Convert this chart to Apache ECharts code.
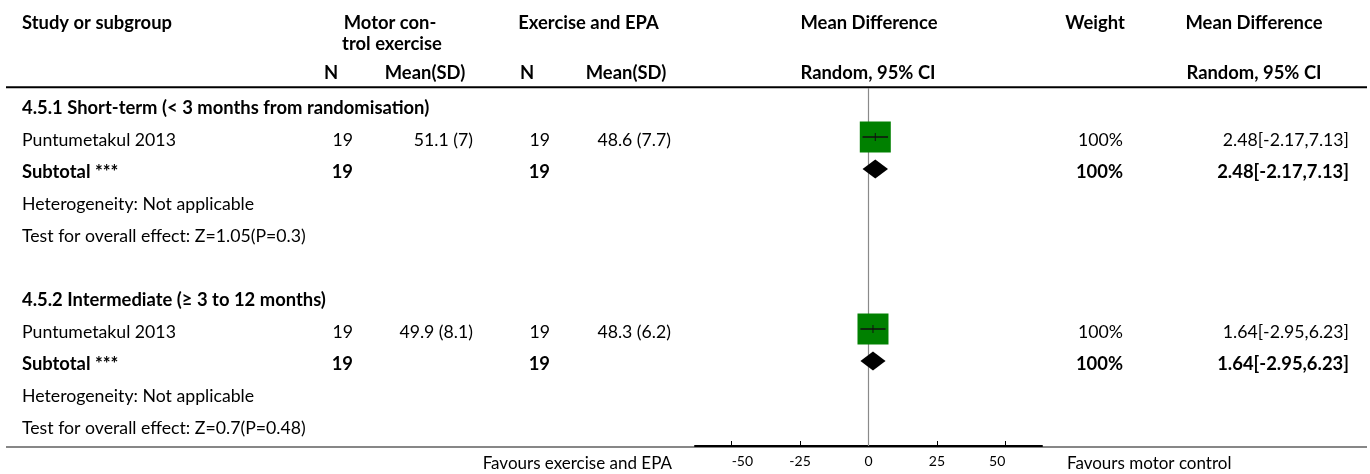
<!DOCTYPE html>
<html><head><meta charset="utf-8">
<script src="https://cdn.jsdelivr.net/npm/echarts@6/dist/echarts.min.js"></script>
<style>html,body{margin:0;padding:0;background:#fff}#c{width:1370px;height:474px}</style>
</head><body><div id="c"></div>
<script>
// ---------- data ----------
const subgroupTitles = ['4.5.1 Short-term (< 3 months from randomisation)', '4.5.2 Intermediate (\u2265 3 to 12 months)'];
const studyNames = ['Puntumetakul 2013', 'Puntumetakul 2013'];
const motorN = [19, 19];
const motorMean = [51.1, 49.9];
const motorSD = [7, 8.1];
const epaN = [19, 19];
const epaMean = [48.6, 48.3];
const epaSD = [7.7, 6.2];
const meanDiff = [2.48, 1.64];
const ciLower = [-2.17, -2.95];
const ciUpper = [7.13, 6.23];
const weights = [100, 100];
const heterogeneityText = ['Heterogeneity: Not applicable', 'Heterogeneity: Not applicable'];
const overallEffectText = ['Test for overall effect: Z=1.05(P=0.3)', 'Test for overall effect: Z=0.7(P=0.48)'];
const tickValues = [-50, -25, 0, 25, 50];
const headerTop = ['Study or subgroup', 'Motor con-', 'Exercise and EPA', 'Mean Difference', 'Weight', 'Mean Difference'];
const headerTop2 = ['trol exercise'];
const headerSub = ['N', 'Mean(SD)', 'N', 'Mean(SD)', 'Random, 95% CI', 'Random, 95% CI'];
const favoursLeft = 'Favours exercise and EPA';
const favoursRight = 'Favours motor control';

// ---------- layout / style ----------
const FONT = 'Lato';
const fontR = '17.7px ' + FONT;
const fontB = 'bold 18.4px ' + FONT;
const fontF = '17px ' + FONT;
const COL = { label: 22, n1: 353, m1: 473, n2: 550, m2: 671, w: 1123, md: 1349 };
const HEADX = { top: [22, 390, 588.5, 869, 1095, 1254], top2: [392], sub: [331, 425, 527, 626, 868, 1254] };

// build table rows
const rows = [];
subgroupTitles.forEach((t, g) => {
  if (g > 0) rows.push({ kind: 'blank' });
  rows.push({ kind: 'group', g });
  rows.push({ kind: 'study', g });
  rows.push({ kind: 'subtotal', g });
  rows.push({ kind: 'het', g });
  rows.push({ kind: 'test', g });
});
const rowCats = rows.map((r, i) => String(i));
const ciText = g => meanDiff[g].toFixed(2) + '[' + ciLower[g].toFixed(2) + ',' + ciUpper[g].toFixed(2) + ']';

function txt(text, x, y, align, bold, font) {
  return { type: 'text', x: x, y: y, silent: true,
    style: { text: text, x: 0, y: 0, fill: '#000', font: font || (bold ? fontB : fontR),
      align: align, verticalAlign: 'middle', textAlign: align, textVerticalAlign: 'middle' } };
}

const chart = echarts.init(document.getElementById('c'), null, { renderer: 'canvas' });

const headerGraphics = [];
headerTop.forEach((t, i) => headerGraphics.push(txt(t, HEADX.top[i], 23, i === 0 ? 'left' : 'center', true)));
headerTop2.forEach((t, i) => headerGraphics.push(txt(t, HEADX.top2[i], 44.5, 'center', true)));
headerSub.forEach((t, i) => headerGraphics.push(txt(t, HEADX.sub[i], 73, 'center', true)));
headerGraphics.push({ type: 'line', silent: true, shape: { x1: 6, y1: 87.3, x2: 1367, y2: 87.3 }, style: { stroke: '#000', lineWidth: 2 } });
headerGraphics.push({ type: 'line', silent: true, shape: { x1: 6, y1: 447, x2: 1367, y2: 447 }, style: { stroke: '#111', lineWidth: 1.2 } });
headerGraphics.push(txt(favoursLeft, 672, 464, 'right', false, fontF));
headerGraphics.push(txt(favoursRight, 1067, 464, 'left', false, fontF));

const option = {
  animation: false,
  backgroundColor: '#fff',
  graphic: { elements: headerGraphics },
  grid: { left: 695, right: 328, top: 89, height: 352, containLabel: false, outerBoundsMode: 'none' },
  xAxis: {
    type: 'value', min: -63.4, max: 63.4,
    axisLine: { show: true, lineStyle: { color: '#000', width: 2 } },
    offset: 5,
    axisTick: { show: true, inside: true, length: 5, customValues: tickValues, lineStyle: { color: '#000', width: 1 } },
    axisLabel: { show: true, customValues: tickValues, color: '#000', fontFamily: FONT, fontSize: 14, margin: 8,
      alignMinLabel: 'left', alignMaxLabel: 'right' },
    splitLine: { show: false }
  },
  yAxis: { type: 'category', data: rowCats, inverse: true, show: false },
  series: [
    { // zero line
      type: 'custom', z: 1, silent: true,
      data: [[0, 0]],
      renderItem: function (params, api) {
        const x = api.coord([0, 0])[0];
        const cs = params.coordSys;
        return { type: 'line', shape: { x1: x, y1: cs.y - 1, x2: x, y2: cs.y + cs.height + 5 },
          style: { stroke: '#8a8a8a', lineWidth: 1.2 } };
      }
    },
    { // table text
      type: 'custom', z: 2, silent: true,
      data: rows.map((r, i) => [0, i]),
      encode: { x: 0, y: 1 },
      renderItem: function (params, api) {
        const idx = api.value(1);
        const r = rows[idx];
        const y = api.coord([0, idx])[1] + 3;
        const ch = [];
        const g = r.g;
        if (r.kind === 'group') ch.push(txt(subgroupTitles[g], COL.label, y, 'left', true));
        if (r.kind === 'study') {
          ch.push(txt(studyNames[g], COL.label, y, 'left', false));
          ch.push(txt(String(motorN[g]), COL.n1, y, 'right', false));
          ch.push(txt(motorMean[g] + ' (' + motorSD[g] + ')', COL.m1, y, 'right', false));
          ch.push(txt(String(epaN[g]), COL.n2, y, 'right', false));
          ch.push(txt(epaMean[g] + ' (' + epaSD[g] + ')', COL.m2, y, 'right', false));
          ch.push(txt(weights[g] + '%', COL.w, y, 'right', false));
          ch.push(txt(ciText(g), COL.md, y, 'right', false));
        }
        if (r.kind === 'subtotal') {
          ch.push(txt('Subtotal ***', COL.label, y, 'left', true));
          ch.push(txt(String(motorN[g]), COL.n1, y, 'right', true));
          ch.push(txt(String(epaN[g]), COL.n2, y, 'right', true));
          ch.push(txt(weights[g] + '%', COL.w, y, 'right', true));
          ch.push(txt(ciText(g), COL.md, y, 'right', true));
        }
        if (r.kind === 'het') ch.push(txt(heterogeneityText[g], COL.label, y, 'left', false));
        if (r.kind === 'test') ch.push(txt(overallEffectText[g], COL.label, y, 'left', false));
        return { type: 'group', children: ch };
      }
    },
    { // study squares + CI
      type: 'custom', z: 3, silent: true,
      data: meanDiff.map((m, g) => [m, ciLower[g], ciUpper[g], rows.findIndex(r => r.kind === 'study' && r.g === g), weights[g]]),
      encode: { x: [0, 1, 2], y: 3 },
      renderItem: function (params, api) {
        const row = api.value(3);
        const c = api.coord([api.value(0), row]);
        const lo = api.coord([api.value(1), row]);
        const hi = api.coord([api.value(2), row]);
        const s = 31 * Math.sqrt(api.value(4) / 100);
        return { type: 'group', children: [
          { type: 'rect', shape: { x: c[0] - s / 2, y: c[1] - s / 2, width: s, height: s }, style: { fill: '#008000' } },
          { type: 'line', shape: { x1: lo[0], y1: c[1], x2: hi[0], y2: c[1] }, style: { stroke: '#111', lineWidth: 1.5 } },
          { type: 'line', shape: { x1: c[0], y1: c[1] - 4, x2: c[0], y2: c[1] + 4 }, style: { stroke: '#111', lineWidth: 1 } }
        ] };
      }
    },
    { // subtotal diamonds
      type: 'custom', z: 3, silent: true,
      data: meanDiff.map((m, g) => [m, ciLower[g], ciUpper[g], rows.findIndex(r => r.kind === 'subtotal' && r.g === g)]),
      encode: { x: [0, 1, 2], y: 3 },
      renderItem: function (params, api) {
        const row = api.value(3);
        const c = api.coord([api.value(0), row]);
        const lo = api.coord([api.value(1), row]);
        const hi = api.coord([api.value(2), row]);
        return { type: 'polygon', shape: { points: [[lo[0], c[1]], [c[0], c[1] - 9.5], [hi[0], c[1]], [c[0], c[1] + 9.5]] },
          style: { fill: '#000' } };
      }
    }
  ]
};
chart.setOption(option);
</script>
</body></html>
